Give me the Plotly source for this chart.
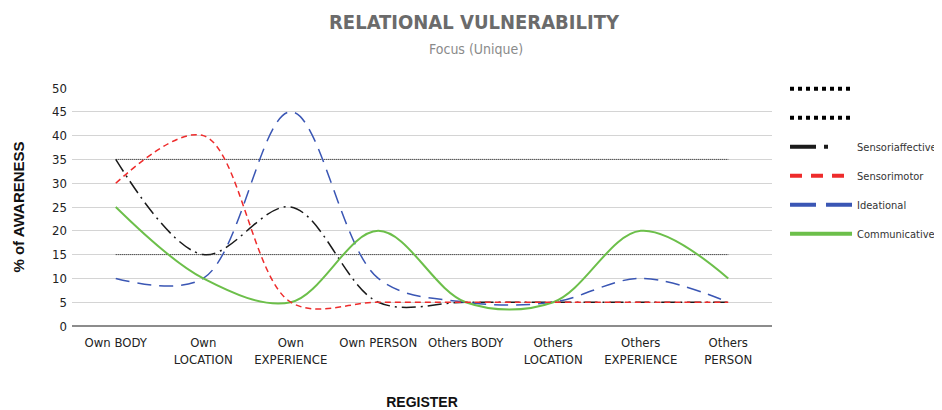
import plotly.graph_objects as go

# Categories along the x axis (two-line labels as in the source chart).
REGISTERS = [
    "Own BODY",
    "Own<br>LOCATION",
    "Own<br>EXPERIENCE",
    "Own PERSON",
    "Others BODY",
    "Others<br>LOCATION",
    "Others<br>EXPERIENCE",
    "Others<br>PERSON",
]

# % of awareness per register.
SENSORIAFFECTIVE = [35, 15, 25, 5, 5, 5, 5, 5]
SENSORIMOTOR = [30, 40, 5, 5, 5, 5, 5, 5]
IDEATIONAL = [10, 10, 45, 10, 5, 5, 10, 5]
COMMUNICATIVE = [25, 10, 5, 20, 5, 5, 20, 10]

# Dotted reference bands.
UPPER_BAND = [35, 35, 35, 35, 35, 35, 35, 35]
LOWER_BAND = [15, 15, 15, 15, 15, 15, 15, 15]

_FONT = "DejaVu Sans Condensed, Liberation Sans Narrow, Arial Narrow, sans-serif"
_FONT_BOLD = "Liberation Sans, Arial, sans-serif"

fig = go.Figure()

# Reference bands (dotted black).
for i, band in enumerate([UPPER_BAND, LOWER_BAND]):
    fig.add_trace(go.Scatter(
        x=REGISTERS, y=band, mode="lines", name=" ",
        line=dict(color="#222222", width=1, dash="1px,1px"),
        legendgroup=f"band{i}", legendrank=1 + i, showlegend=False,
    ))
    fig.add_trace(go.Scatter(
        x=[None], y=[None], mode="lines", name=" ",
        line=dict(color="black", width=4, dash="4px,4px"),
        legendgroup=f"band{i}", legendrank=1 + i,
    ))

series = [
    # name, values, colour, plot dash, legend dash, width, rank
    ("Sensoriaffective", SENSORIAFFECTIVE, "#1a1a1a", "14px,5px,2px,5px", "26px,8px,4px,40px", 1.5, 3),
    ("Ideational", IDEATIONAL, "#3a56b4", "14px,8px", "26px,10px", 1.5, 5),
    ("Communicative", COMMUNICATIVE, "#6cbf4a", None, None, 2, 6),
    ("Sensorimotor", SENSORIMOTOR, "#ee2b2b", "6px,4px", "12px,9px", 1.5, 4),
]

for name, values, color, dash, legend_dash, width, rank in series:
    fig.add_trace(go.Scatter(
        x=REGISTERS, y=values, mode="lines", name=name,
        line=dict(color=color, width=width, dash=dash or "solid",
                  shape="spline", smoothing=1),
        legendgroup=name, legendrank=rank, showlegend=False,
    ))
    fig.add_trace(go.Scatter(
        x=[None], y=[None], mode="lines", name=name,
        line=dict(color=color, width=4, dash=legend_dash or "solid"),
        legendgroup=name, legendrank=rank,
    ))

# The page body adds an 8px offset, so margins are shifted to compensate.
fig.update_layout(
    width=942,
    height=410,
    margin=dict(l=64, r=178, t=80, b=92, autoexpand=False),
    plot_bgcolor="white",
    paper_bgcolor="white",
    font=dict(family=_FONT, size=13, color="#333333"),
    title=dict(
        text="<b>RELATIONAL VULNERABILITY</b>",
        x=0.4947, xanchor="center", y=0.966, yanchor="middle",
        font=dict(family=_FONT, size=20, color="#6b6b6b"),
    ),
    annotations=[dict(
        text="Focus (Unique)", xref="paper", yref="paper",
        x=0.577, y=1.0, yshift=39, xanchor="center", yanchor="middle",
        showarrow=False, font=dict(family=_FONT, size=14, color="#8a8a8a"),
    )],
    legend=dict(
        x=1.0186, y=1.0576, xanchor="left", yanchor="top",
        itemwidth=62, tracegroupgap=10,
        font=dict(family=_FONT, size=11, color="#333333"),
        traceorder="grouped",
    ),
    showlegend=True,
)

fig.update_xaxes(
    range=[-0.5, 7.5],
    showgrid=False, showline=False, zeroline=False,
    ticks="", ticklabelstandoff=7, tickfont=dict(size=13, color="#222222"),
    title=dict(text="<b>REGISTER</b>", standoff=31,
               font=dict(family=_FONT_BOLD, size=14, color="#111111")),
)
fig.update_yaxes(
    range=[0, 50], dtick=5,
    showgrid=True, gridcolor="#d4d4d4", gridwidth=1,
    zeroline=True, zerolinecolor="#8c8c8c", zerolinewidth=1.5,
    showline=False, ticks="", ticklabelstandoff=4,
    tickfont=dict(size=13, color="#222222"),
    title=dict(text="<b>% of AWARENESS</b>", standoff=23,
               font=dict(family=_FONT_BOLD, size=15, color="#111111")),
)

fig.write_html("out.html")
